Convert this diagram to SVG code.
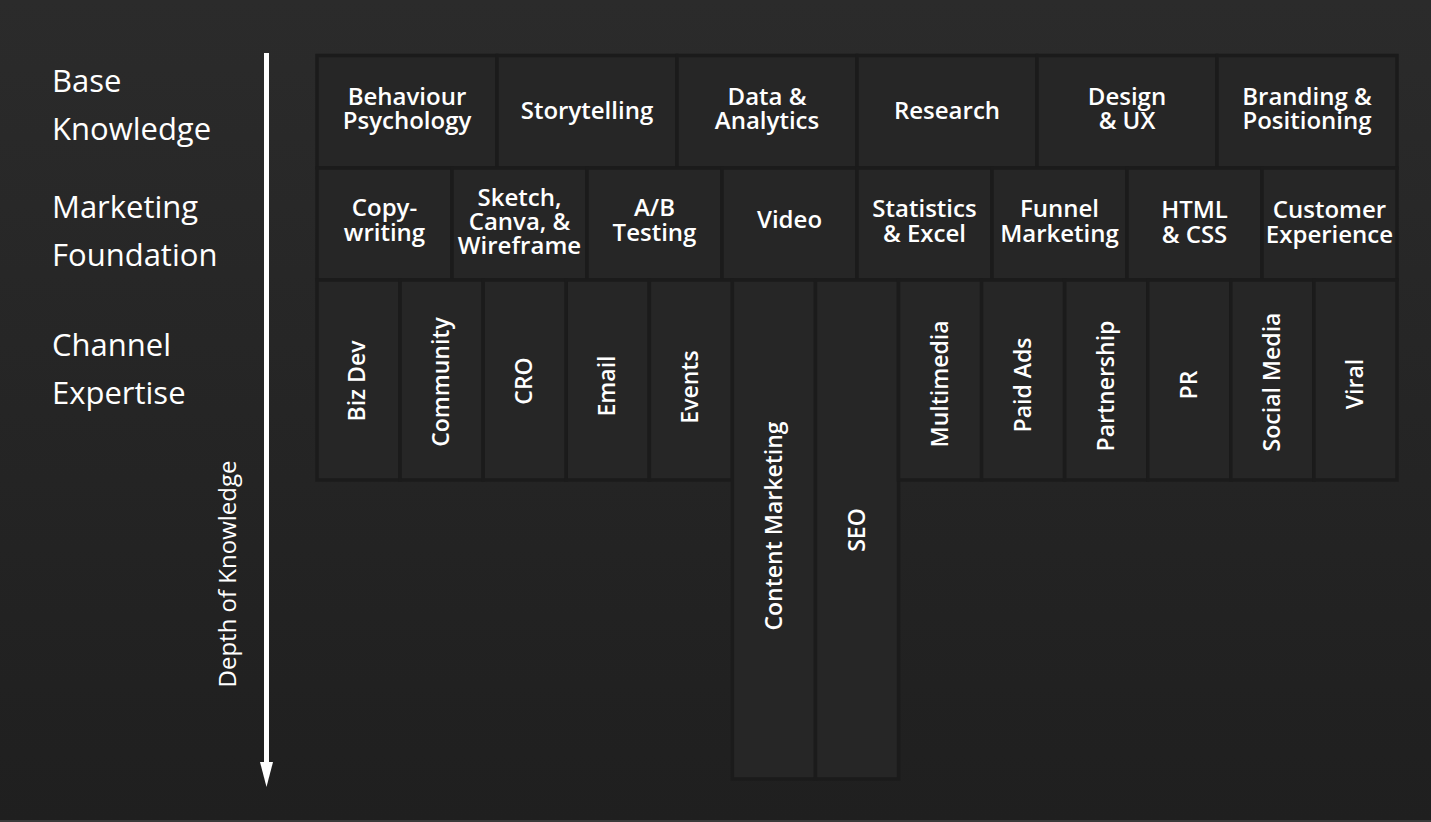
<svg xmlns="http://www.w3.org/2000/svg" width="1431" height="822" viewBox="0 0 1431 822">
<defs>
<linearGradient id="bg" x1="0" y1="0" x2="0" y2="1">
<stop offset="0" stop-color="#2b2b2b"/>
<stop offset="1" stop-color="#1f1f1f"/>
</linearGradient>
<marker id="ah" markerWidth="25" markerHeight="13" refX="0" refY="6.5" orient="auto" markerUnits="userSpaceOnUse" viewBox="0 0 25 13">
<polygon points="0,0 25,6.5 0,13" fill="#ffffff"/>
</marker>
<style>
.cell{fill:#262626;stroke:#1b1b1b;stroke-width:3.5}
.lbl{font-family:"Open Sans","Liberation Sans",sans-serif;font-weight:600;font-size:24px;fill:#ffffff;text-anchor:middle}
.vl{font-family:"Open Sans","Liberation Sans",sans-serif;font-weight:600;font-size:23px;fill:#ffffff;text-anchor:middle}
.side{font-family:"Open Sans","Liberation Sans",sans-serif;font-weight:400;font-size:31px;fill:#ffffff}
.axis{font-family:"Open Sans","Liberation Sans",sans-serif;font-weight:400;font-size:24px;fill:#ffffff;text-anchor:middle}
</style>
</defs>
<rect x="0" y="0" width="1431" height="822" fill="url(#bg)"/>
<rect x="0" y="820" width="1431" height="2" fill="#3a3a3a"/>

<g id="side-labels">
<text class="side" x="52" y="92">Base</text>
<text class="side" x="52" y="140">Knowledge</text>
<text class="side" x="52" y="218">Marketing</text>
<text class="side" x="52" y="266">Foundation</text>
<text class="side" x="52" y="356">Channel</text>
<text class="side" x="52" y="404">Expertise</text>
</g>

<g id="connectors">
<line x1="266.5" y1="53" x2="266.5" y2="762" stroke="#ffffff" stroke-width="5" marker-end="url(#ah)"/>
<text class="axis" transform="translate(236,574) rotate(-90)">Depth of Knowledge</text>
</g>

<!-- Row 1: Base Knowledge -->
<g id="behaviour-psychology"><rect class="cell" x="317" y="55.5" width="180" height="112.5"/><text class="lbl" y="105"><tspan x="407">Behaviour</tspan><tspan x="407" dy="24">Psychology</tspan></text></g>
<g id="storytelling"><rect class="cell" x="497" y="55.5" width="180" height="112.5"/><text class="lbl" x="587" y="119">Storytelling</text></g>
<g id="data-analytics"><rect class="cell" x="677" y="55.5" width="180" height="112.5"/><text class="lbl" y="105"><tspan x="767">Data &amp;</tspan><tspan x="767" dy="24">Analytics</tspan></text></g>
<g id="research"><rect class="cell" x="857" y="55.5" width="180" height="112.5"/><text class="lbl" x="947" y="119">Research</text></g>
<g id="design-ux"><rect class="cell" x="1037" y="55.5" width="180" height="112.5"/><text class="lbl" y="105"><tspan x="1127">Design</tspan><tspan x="1127" dy="24">&amp; UX</tspan></text></g>
<g id="branding-positioning"><rect class="cell" x="1217" y="55.5" width="180" height="112.5"/><text class="lbl" y="105"><tspan x="1307">Branding &amp;</tspan><tspan x="1307" dy="24">Positioning</tspan></text></g>

<!-- Row 2: Marketing Foundation -->
<g id="copywriting"><rect class="cell" x="317" y="168" width="135" height="112"/><text class="lbl" y="216"><tspan x="384.5">Copy-</tspan><tspan x="384.5" dy="25">writing</tspan></text></g>
<g id="sketch-canva-wireframe"><rect class="cell" x="452" y="168" width="135" height="112"/><text class="lbl" y="206"><tspan x="519.5">Sketch,</tspan><tspan x="519.5" dy="24">Canva, &amp;</tspan><tspan x="519.5" dy="24">Wireframe</tspan></text></g>
<g id="ab-testing"><rect class="cell" x="587" y="168" width="135" height="112"/><text class="lbl" y="216"><tspan x="654.5">A/B</tspan><tspan x="654.5" dy="25">Testing</tspan></text></g>
<g id="video"><rect class="cell" x="722" y="168" width="135" height="112"/><text class="lbl" x="789.5" y="228">Video</text></g>
<g id="statistics-excel"><rect class="cell" x="857" y="168" width="135" height="112"/><text class="lbl" y="217"><tspan x="924.5">Statistics</tspan><tspan x="924.5" dy="25">&amp; Excel</tspan></text></g>
<g id="funnel-marketing"><rect class="cell" x="992" y="168" width="135" height="112"/><text class="lbl" y="217"><tspan x="1059.5">Funnel</tspan><tspan x="1059.5" dy="25">Marketing</tspan></text></g>
<g id="html-css"><rect class="cell" x="1127" y="168" width="135" height="112"/><text class="lbl" y="218"><tspan x="1194.5">HTML</tspan><tspan x="1194.5" dy="25">&amp; CSS</tspan></text></g>
<g id="customer-experience"><rect class="cell" x="1262" y="168" width="135" height="112"/><text class="lbl" y="218"><tspan x="1329.5">Customer</tspan><tspan x="1329.5" dy="25">Experience</tspan></text></g>

<!-- Row 3: Channel Expertise -->
<g id="biz-dev"><rect class="cell" x="317" y="280" width="83.08" height="200"/><text class="vl" transform="translate(365,381) rotate(-90)">Biz Dev</text></g>
<g id="community"><rect class="cell" x="400.08" y="280" width="83.07" height="200"/><text class="vl" transform="translate(449,382) rotate(-90)">Community</text></g>
<g id="cro"><rect class="cell" x="483.15" y="280" width="83.08" height="200"/><text class="vl" transform="translate(532,381) rotate(-90)">CRO</text></g>
<g id="email"><rect class="cell" x="566.23" y="280" width="83.08" height="200"/><text class="vl" transform="translate(615,386) rotate(-90)">Email</text></g>
<g id="events"><rect class="cell" x="649.31" y="280" width="83.07" height="200"/><text class="vl" transform="translate(698,387) rotate(-90)">Events</text></g>
<g id="content-marketing"><rect class="cell" x="732.38" y="280" width="83.08" height="499"/><text class="vl" transform="translate(782,526) rotate(-90)">Content Marketing</text></g>
<g id="seo"><rect class="cell" x="815.46" y="280" width="83.08" height="499"/><text class="vl" transform="translate(865,530) rotate(-90)">SEO</text></g>
<g id="multimedia"><rect class="cell" x="898.54" y="280" width="83.08" height="200"/><text class="vl" transform="translate(948,384) rotate(-90)">Multimedia</text></g>
<g id="paid-ads"><rect class="cell" x="981.62" y="280" width="83.07" height="200"/><text class="vl" transform="translate(1031,385) rotate(-90)">Paid Ads</text></g>
<g id="partnership"><rect class="cell" x="1064.69" y="280" width="83.08" height="200"/><text class="vl" transform="translate(1114,386) rotate(-90)">Partnership</text></g>
<g id="pr"><rect class="cell" x="1147.77" y="280" width="83.08" height="200"/><text class="vl" transform="translate(1197,385) rotate(-90)">PR</text></g>
<g id="social-media"><rect class="cell" x="1230.85" y="280" width="83.07" height="200"/><text class="vl" transform="translate(1280,382) rotate(-90)">Social Media</text></g>
<g id="viral"><rect class="cell" x="1313.92" y="280" width="83.08" height="200"/><text class="vl" transform="translate(1363,384) rotate(-90)">Viral</text></g>
</svg>
